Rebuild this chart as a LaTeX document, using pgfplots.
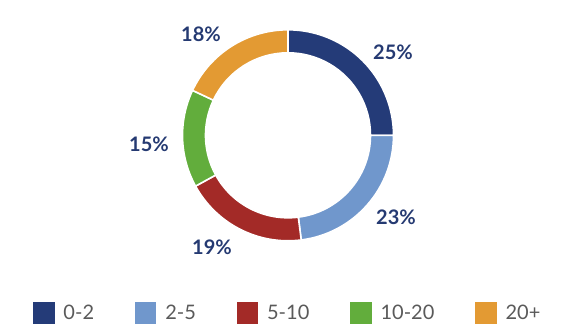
\documentclass[border=0pt]{standalone}
\usepackage{fontspec}
\setmainfont{Lato}
\usepackage{pgfplots}
\usepackage{pgfplotstable}
\pgfplotsset{compat=1.18}
\definecolor{c1}{HTML}{243B78}
\definecolor{c2}{HTML}{7097CC}
\definecolor{c3}{HTML}{A32A27}
\definecolor{c4}{HTML}{62AD3C}
\definecolor{c5}{HTML}{E39A33}
\definecolor{labcol}{HTML}{253A72}
\definecolor{legcol}{HTML}{5A5A5A}
\pgfplotstableread{
value color lx ly
25 c1 393 52.5
23 c2 396 217
19 c3 212 247
15 c4 149 144
18 c5 201 34.5
}\datatable
\begin{document}
\begin{tikzpicture}
\begin{axis}[
  scale only axis, width=432pt, height=244.5pt,
  xmin=0, xmax=576, ymin=0, ymax=326,
  hide axis, clip=false,
  legend columns=-1,
  legend style={draw=none, fill=none, at={(0.5,0.04)}, anchor=center,
    font=\fontsize{15}{18}\selectfont\color{legcol},
    /tikz/every odd column/.append style={column sep=5pt},
    /tikz/every even column/.append style={column sep=28.5pt}},
  legend image code/.code={\fill[#1] (0pt,-7.75pt) rectangle (15.5pt,7.75pt);},
]
\def\cum{90}
\pgfplotsinvokeforeach{0,1,2,3,4}{
  \pgfplotstablegetelem{#1}{value}\of\datatable \global\let\v\pgfplotsretval
  \pgfplotstablegetelem{#1}{color}\of\datatable \global\let\c\pgfplotsretval
  \pgfplotstablegetelem{#1}{lx}\of\datatable \global\let\lx\pgfplotsretval
  \pgfplotstablegetelem{#1}{ly}\of\datatable \global\let\ly\pgfplotsretval
  \pgfmathsetmacro\a{\cum}
  \pgfmathsetmacro\b{\cum-3.6*\v}
  \pgfmathsetmacro\oxa{288+105.5*cos(\a)}
  \pgfmathsetmacro\oya{190.7+105.5*sin(\a)}
  \pgfmathsetmacro\ixb{288+82.5*cos(\b)}
  \pgfmathsetmacro\iyb{190.7+82.5*sin(\b)}
  \pgfmathsetmacro\lyy{326-\ly}
  \edef\temp{\noexpand\fill[\c, draw=white, line width=1.2pt] (axis cs:\oxa,\oya) arc[start angle=\a, end angle=\b, radius=105.5] -- (axis cs:\ixb,\iyb) arc[start angle=\b, end angle=\a, radius=82.5] -- cycle;
  \noexpand\node[text=labcol, font=\noexpand\fontsize{15}{18}\noexpand\selectfont\noexpand\bfseries] at (axis cs:\lx,\lyy) {\v\noexpand\%};}
  \temp
  \xdef\cum{\b}
}
\addlegendimage{c1}\addlegendentry{0-2}
\addlegendimage{c2}\addlegendentry{2-5}
\addlegendimage{c3}\addlegendentry{5-10}
\addlegendimage{c4}\addlegendentry{10-20}
\addlegendimage{c5}\addlegendentry{20+}
\end{axis}
\pgfresetboundingbox
\path (0,0) rectangle (432pt,244.5pt);
\end{tikzpicture}
\end{document}
